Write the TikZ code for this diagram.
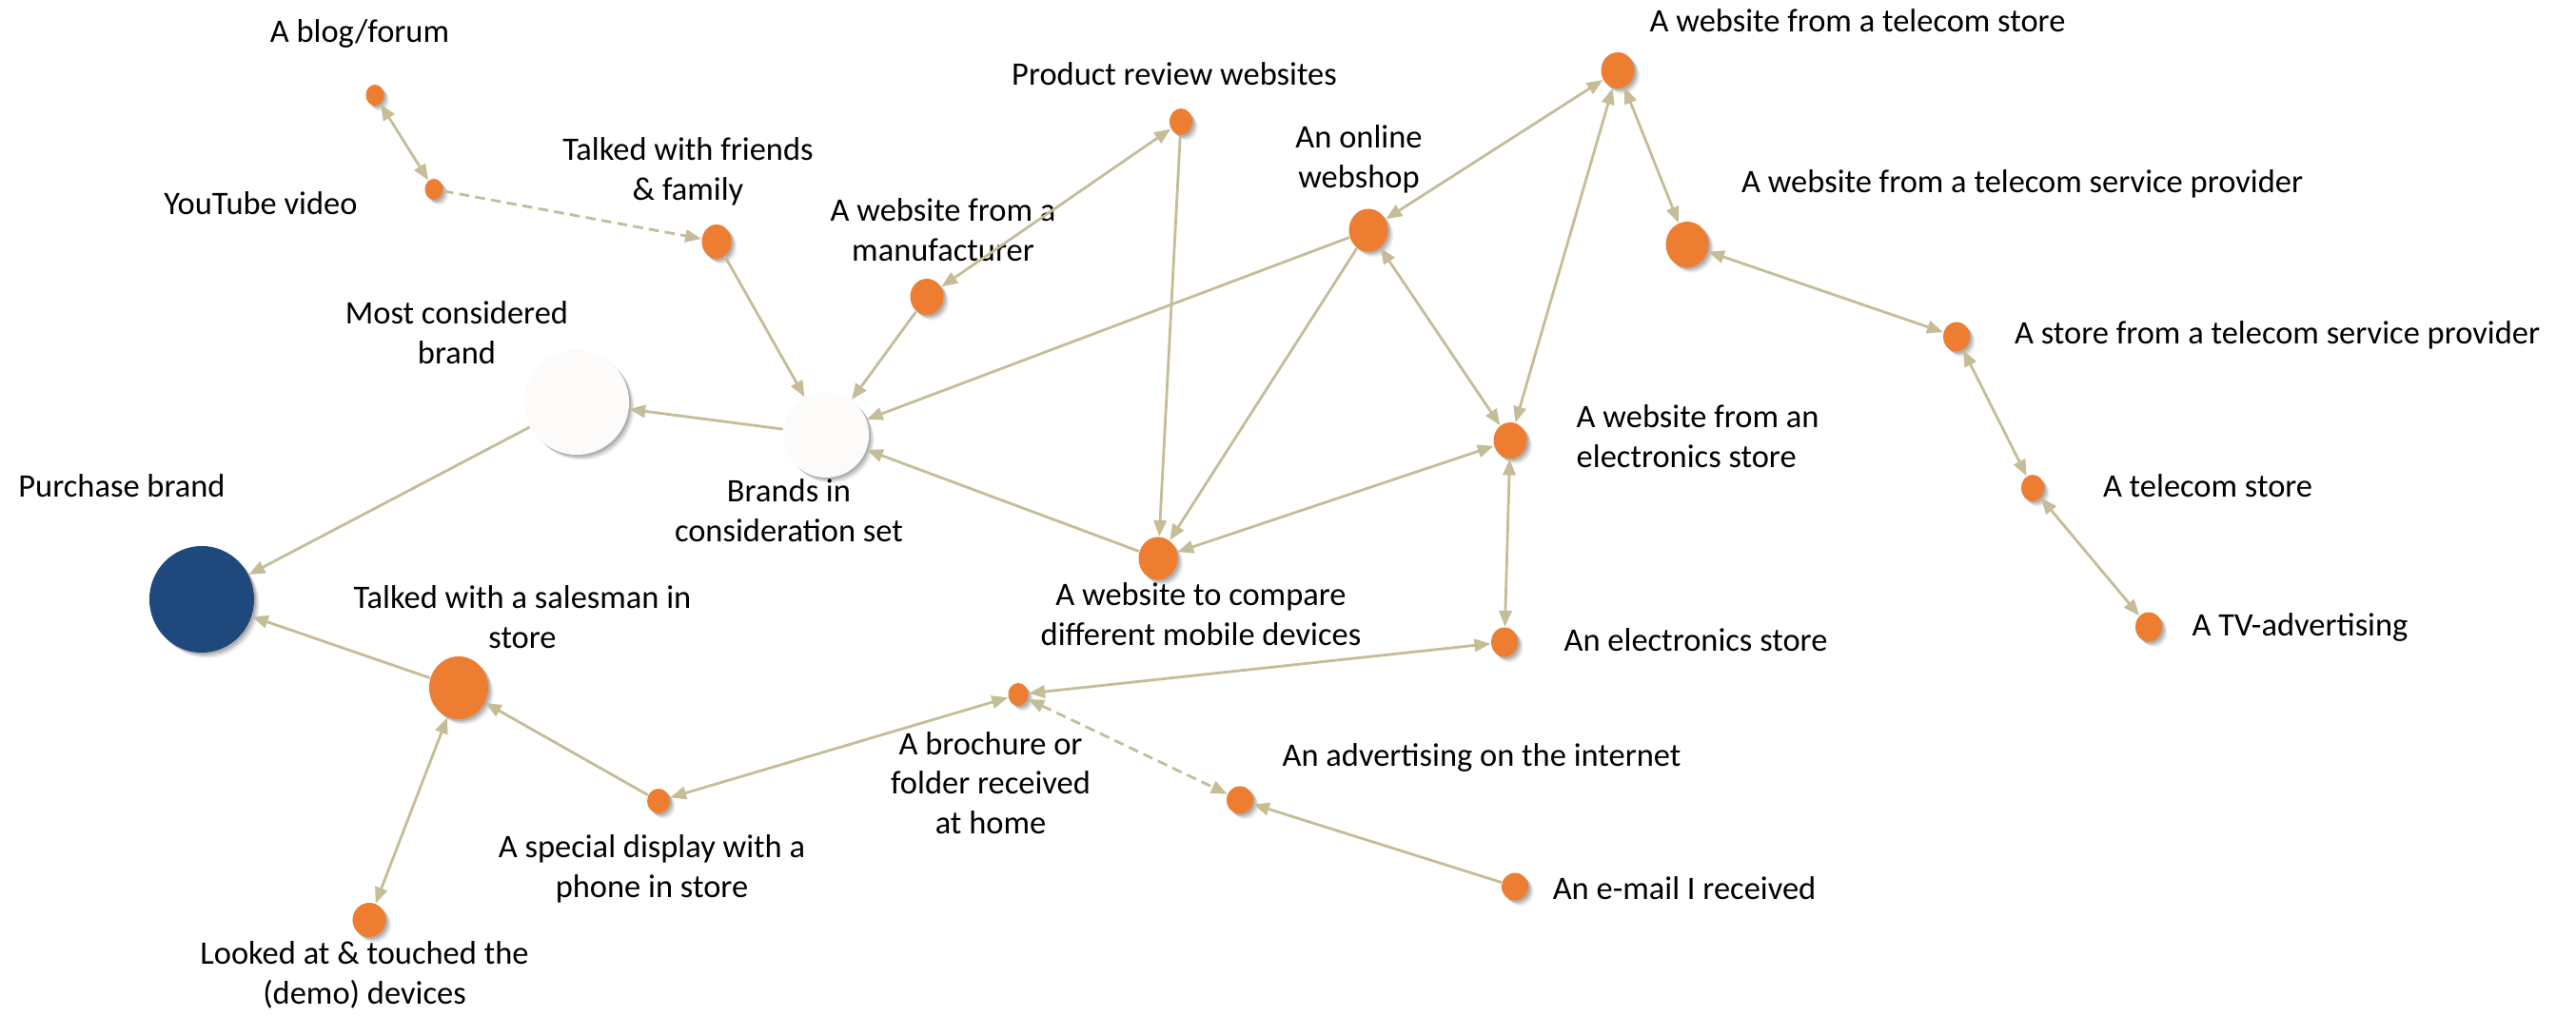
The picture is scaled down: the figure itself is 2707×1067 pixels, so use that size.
\documentclass[tikz,border=0pt]{standalone}
\usepackage{fontspec}
\setmainfont{Carlito}
\usetikzlibrary{arrows.meta,shapes.geometric,shadows}
\definecolor{spotorange}{HTML}{ED7D31}
\definecolor{spotblue}{HTML}{1F497D}
\definecolor{spotwhite}{HTML}{FCFBF9}
\definecolor{linktan}{HTML}{C4BD97}
\begin{document}
\begin{tikzpicture}[x=0.01cm, y=-0.01cm,
    spot/.style 2 args={ellipse, draw=none, fill=spotorange, minimum width=#1, minimum height=#2, inner sep=0pt,
      drop shadow={shadow xshift=1.6pt, shadow yshift=-1.6pt, fill=black, opacity=0.07},
      drop shadow={shadow xshift=1.1pt, shadow yshift=-1.1pt, fill=black, opacity=0.12},
      drop shadow={shadow xshift=0.6pt, shadow yshift=-0.6pt, fill=black, opacity=0.15}},
    txt/.style={align=center, inner sep=0pt, font=\fontsize{9.8}{11.9}\selectfont},
    link/.style={draw=linktan, line width=0.8pt, >={Triangle[length=4.8pt,width=3.8pt]}},
    dashlink/.style={dash pattern=on 3pt off 1.8pt}]
  \useasboundingbox (0,0) rectangle (2707,1067);

  % Brands
  \node (purchase) at (212,630) [spot={11mm}{11.2mm}, fill=spotblue] {};
  \node (most) at (606,423) [spot={11mm}{11mm}, fill=spotwhite] {};
  \node (consid) at (868,457) [spot={9mm}{9mm}, fill=spotwhite] {};

  % Touch points
  \node (blog) at (394,100) [spot={1.9mm}{2.2mm}] {};
  \node (youtube) at (456,199) [spot={1.9mm}{2.2mm}] {};
  \node (friends) at (753,254) [spot={3.1mm}{3.6mm}] {};
  \node (manuf) at (974,312) [spot={3.5mm}{3.8mm}] {};
  \node (review) at (1241,128) [spot={2.4mm}{2.8mm}] {};
  \node (webshop) at (1438,242) [spot={4.1mm}{4.5mm}] {};
  \node (telweb) at (1700,74) [spot={3.5mm}{3.8mm}] {};
  \node (telspweb) at (1773,257) [spot={4.5mm}{4.8mm}] {};
  \node (telspstore) at (2056,354) [spot={2.8mm}{3.1mm}] {};
  \node (elecweb) at (1587,463) [spot={3.5mm}{3.8mm}] {};
  \node (telstore) at (2136,513) [spot={2.4mm}{2.8mm}] {};
  \node (tv) at (2258,659) [spot={2.8mm}{3.1mm}] {};
  \node (salesman) at (482,723) [spot={6.2mm}{6.6mm}] {};
  \node (compare) at (1217,587) [spot={4.1mm}{4.5mm}] {};
  \node (elecstore) at (1581,675) [spot={2.8mm}{3.1mm}] {};
  \node (brochure) at (1070,730) [spot={2.1mm}{2.4mm}] {};
  \node (display) at (692,842) [spot={2.4mm}{2.6mm}] {};
  \node (looked) at (388,967) [spot={3.5mm}{3.6mm}] {};
  \node (adnet) at (1303,841) [spot={2.8mm}{2.9mm}] {};
  \node (email) at (1592,932) [spot={2.8mm}{2.9mm}] {};

  % Labels
  \node (purchaseT) at (128,511) [txt] {Purchase brand};
  \node (mostT) at (480,350) [txt] {Most considered\\brand};
  \node (considT) at (829,537) [txt] {Brands in\\consideration set};
  \node (blogT) at (378,36) [txt] {A blog/forum};
  \node (youtubeT) at (274,214) [txt] {YouTube video};
  \node (friendsT) at (723,180) [txt] {Talked with friends\\\& family};
  \node (reviewT) at (1234,78) [txt] {Product review websites};
  \node (manufT) at (991,242) [txt] {A website from a\\manufacturer};
  \node (webshopT) at (1428,167) [txt] {An online\\webshop};
  \node (telwebT) at (1952,22) [txt] {A website from a telecom store};
  \node (telspwebT) at (2125,193) [txt] {A website from a telecom service provider};
  \node (telspstoreT) at (2393,352) [txt] {A store from a telecom service provider};
  \node (elecwebT) at (1656,459) [txt, anchor=west, align=left] {A website from an\\electronics store};
  \node (telstoreT) at (2320,511) [txt] {A telecom store};
  \node (tvT) at (2417,659) [txt] {A TV-advertising};
  \node (salesmanT) at (549,649) [txt] {Talked with a salesman in\\store};
  \node (compareT) at (1262,646) [txt] {A website to compare\\different mobile devices};
  \node (elecstoreT) at (1782,673) [txt] {An electronics store};
  \node (brochureT) at (1041,823) [txt] {A brochure or\\folder received\\at home};
  \node (adnetT) at (1557,796) [txt] {An advertising on the internet};
  \node (displayT) at (685,913) [txt] {A special display with a\\phone in store};
  \node (lookedT) at (383,1025) [txt] {Looked at \& touched the\\(demo) devices};
  \node (emailT) at (1770,934) [txt] {An e-mail I received};

  % Online paths
  \draw[link, <->] (blog) -- (youtube);
  \draw[link, dashlink, ->] (youtube) -- (friends);
  \draw[link, ->] (friends) -- (consid);
  \draw[link, ->] (manuf) -- (consid);
  \draw[link, <->] (manuf) -- (review);
  \draw[link, ->] (review) -- (compare);
  \draw[link, ->] (webshop) -- (consid);
  \draw[link, ->] (webshop) -- (compare);
  \draw[link, <->] (webshop) -- (elecweb);
  \draw[link, <->] (webshop) -- (telweb);
  \draw[link, <->] (elecweb) -- (telweb);
  \draw[link, <->] (telweb) -- (telspweb);
  \draw[link, <->] (telspweb) -- (telspstore);
  \draw[link, <->] (telspstore) -- (telstore);
  \draw[link, <->] (telstore) -- (tv);
  \draw[link, <->] (compare) -- (elecweb);
  \draw[link, ->] (compare) -- (consid);

  % Offline paths
  \draw[link, <->] (elecweb) -- (elecstore);
  \draw[link, <->] (elecstore) -- (brochure);
  \draw[link, <->] (brochure) -- (display);
  \draw[link, dashlink, <->] (brochure) -- (adnet);
  \draw[link, ->] (email) -- (adnet);
  \draw[link, ->] (display) -- (salesman);
  \draw[link, <->] (looked) -- (salesman);

  % To the brands
  \draw[link, ->] (salesman) -- (purchase);
  \draw[link, ->] (most) -- (purchase);
  \draw[link, ->] (consid) -- (most);
\end{tikzpicture}
\end{document}
